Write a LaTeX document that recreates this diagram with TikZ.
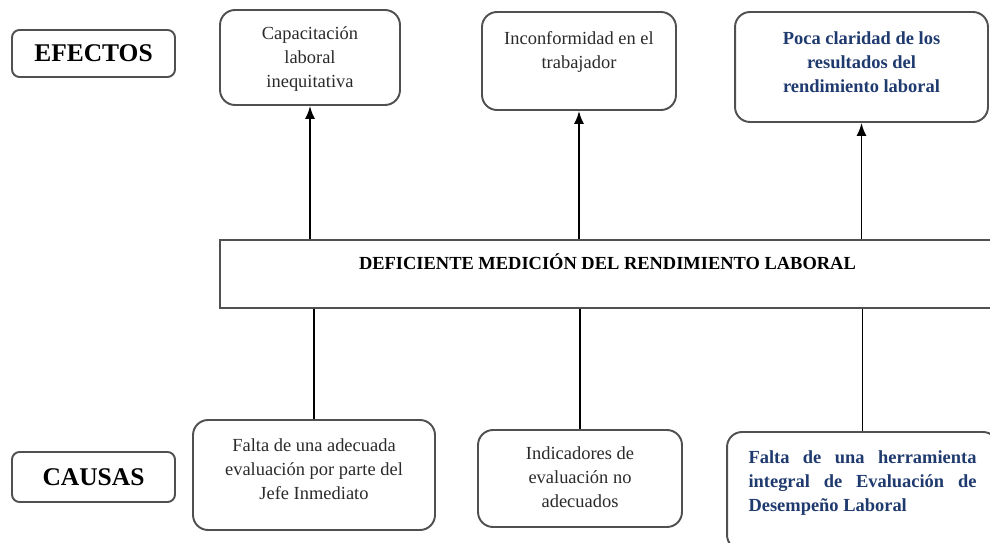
\documentclass[tikz,border=0pt]{standalone}
\usepackage{fontspec}
\setmainfont{Liberation Serif}
\usetikzlibrary{arrows.meta}
\definecolor{txtblue}{HTML}{1F3A6E}
\definecolor{txtgray}{HTML}{2A2A2A}
\definecolor{boxgray}{HTML}{505050}
\newcommand{\toptext}[4]{\parbox[c][#1][t]{#2}{\vspace*{#3}\centering #4\par}}

\begin{document}
\begin{tikzpicture}[x=0.02cm,y=-0.02cm,
  caja/.style={draw=boxgray,line width=1.1pt,rounded corners=0.3cm,inner sep=0pt,text=txtgray,font=\fontsize{10.5}{13.6}\selectfont},
  azul/.style={text=txtblue,font=\fontsize{10.5}{13.6}\selectfont\bfseries},
  titulo/.style={draw=boxgray,line width=1.1pt,rounded corners=0.15cm,minimum width=3.26cm,font=\fontsize{14.5}{16}\selectfont\bfseries},
  flecha/.style={draw,line width=1pt,-{Latex[length=2.6mm,width=2mm]}}]
\clip (0,0) rectangle (990,543);

\node[titulo,minimum height=0.94cm] (efectos) at (93.5,53.5) {EFECTOS};
\node[titulo,minimum height=1cm] (causas) at (93.5,477) {CAUSAS};

\node[caja] (cap) at (310,57.5) {\toptext{1.9cm}{3.6cm}{0.34cm}{Capacitación\\ laboral\\ inequitativa}};
\node[caja] (inconf) at (579,61) {\toptext{1.96cm}{3.88cm}{0.40cm}{Inconformidad en el\\ trabajador}};
\node[caja,azul] (poca) at (861.5,67) {\toptext{2.2cm}{5.06cm}{0.40cm}{Poca claridad de los\\ resultados del\\ rendimiento laboral}};

\node[caja,rounded corners=0pt,font=\fontsize{10.5}{13}\selectfont\bfseries,text=black] (main) at (607.5,274) {\toptext{1.36cm}{15.5cm}{0.27cm}{DEFICIENTE MEDICIÓN DEL RENDIMIENTO LABORAL}};

\node[caja] (falta) at (314,475) {\toptext{2.2cm}{4.84cm}{0.38cm}{Falta de una adecuada\\ evaluación por parte del\\ Jefe Inmediato}};
\node[caja] (indic) at (580,478.5) {\toptext{1.94cm}{4.08cm}{0.34cm}{Indicadores de\\ evaluación no\\ adecuados}};
\node[caja,azul] (herr) at (862.5,491) {\toptext{2.36cm}{5.42cm}{0.38cm}{\parbox{4.56cm}{\makebox[4.56cm][s]{Falta de una herramienta}\\ \makebox[4.56cm][s]{integral de Evaluación de}\\ Desempeño Laboral}}};

\path[flecha] (main.north -| cap.south) -- (cap.south);
\path[flecha] (main.north -| inconf.south) -- (inconf.south);
\path[flecha] (main.north -| poca.south) -- (poca.south);

\path[draw,line width=1pt] (main.south -| falta.north) -- (falta.north);
\path[draw,line width=1pt] (main.south -| indic.north) -- (indic.north);
\path[draw,line width=1pt] (main.south -| herr.north) -- (herr.north);
\end{tikzpicture}
\end{document}
